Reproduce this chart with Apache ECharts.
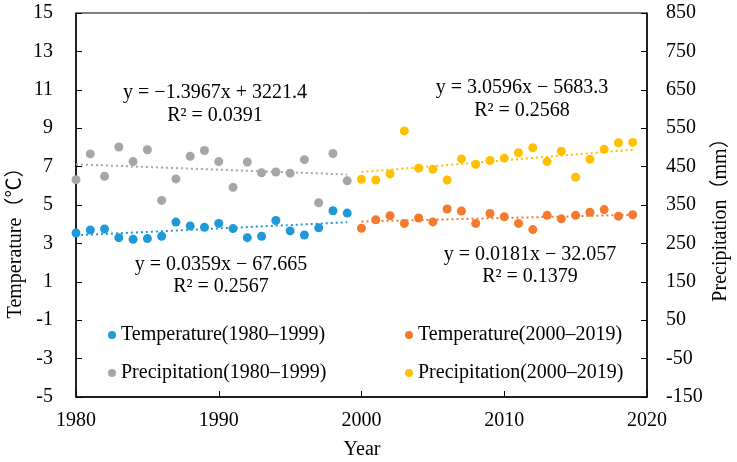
<!DOCTYPE html>
<html>
<head>
<meta charset="utf-8">
<script src="https://cdn.jsdelivr.net/npm/echarts@6/dist/echarts.min.js"></script>
<style>
  html, body { margin: 0; padding: 0; background: #fff; }
  #chart { width: 737px; height: 462px; }
</style>
</head>
<body>
<div id="chart"></div>
<script>
// datos
const years1 = [1980, 1981, 1982, 1983, 1984, 1985, 1986, 1987, 1988, 1989,
                1990, 1991, 1992, 1993, 1994, 1995, 1996, 1997, 1998, 1999];
const years2 = [2000, 2001, 2002, 2003, 2004, 2005, 2006, 2007, 2008, 2009,
                2010, 2011, 2012, 2013, 2014, 2015, 2016, 2017, 2018, 2019];
const temp1 = [3.54, 3.70, 3.75, 3.30, 3.21, 3.25, 3.37, 4.11, 3.91, 3.84,
               4.04, 3.77, 3.30, 3.37, 4.19, 3.65, 3.44, 3.81, 4.70, 4.58];
const temp2 = [3.79, 4.23, 4.44, 4.04, 4.32, 4.12, 4.79, 4.69, 4.04, 4.56,
               4.39, 4.04, 3.72, 4.46, 4.28, 4.46, 4.62, 4.76, 4.42, 4.49];
const prec1 = [416, 483, 425, 501, 463, 494, 362, 418, 477, 492,
               463, 396, 462, 434, 436, 433, 468, 356, 484, 413];
const prec2 = [417, 415, 431, 543, 446, 443, 415, 470, 456, 466,
               472, 486, 499, 463, 490, 422, 469, 495, 512, 513];

// líneas de tendencia (extremos)
const trendTemp1 = [[1980, 3.42], [1999, 4.10]];
const trendTemp2 = [[2000, 4.14], [2019, 4.49]];
const trendPrec1 = [[1980, 455.9], [1999, 429.4]];
const trendPrec2 = [[2000, 435.9], [2019, 494.0]];

const seriesNames = ['Temperature(1980–1999)', 'Temperature(2000–2019)',
                     'Precipitation(1980–1999)', 'Precipitation(2000–2019)'];
const colors = ['#1f9ad9', '#f47a2e', '#a6a6a6', '#ffc000'];

const equations = [
  { x: 215, y: 93, text: 'y = −1.3967x + 3221.4' },
  { x: 215, y: 116, text: 'R² = 0.0391' },
  { x: 522, y: 88, text: 'y = 3.0596x − 5683.3' },
  { x: 522, y: 111, text: 'R² = 0.2568' },
  { x: 221, y: 265, text: 'y = 0.0359x − 67.665' },
  { x: 221, y: 287, text: 'R² = 0.2567' },
  { x: 530, y: 255, text: 'y = 0.0181x − 32.057' },
  { x: 530, y: 277, text: 'R² = 0.1379' }
];

const font = 'Liberation Serif';
const titleFont = '20px "Liberation Serif", "Noto Sans CJK SC"';
const zip = (xs, ys) => xs.map((x, i) => [x, ys[i]]);

const myChart = echarts.init(document.getElementById('chart'));

const scatter = (name, data, color, yIdx) => ({
  name: name,
  type: 'scatter',
  yAxisIndex: yIdx,
  data: data,
  symbolSize: 9,
  itemStyle: { color: color, opacity: 1 },
  z: 3
});

const trend = (name, data, color, yIdx) => ({
  name: name,
  type: 'line',
  yAxisIndex: yIdx,
  data: data,
  showSymbol: false,
  silent: true,
  lineStyle: { color: color, width: 2, type: [2, 3] },
  z: 2
});

const legendText = { fontFamily: font, fontSize: 20, color: '#000' };

const textEl = (x, y, text, rot) => ({
  type: 'text',
  x: x, y: y,
  rotation: rot || 0,
  style: { text: text, font: titleFont, fill: '#000', align: 'center', verticalAlign: 'middle' },
  z: 10
});

const option = {
  animation: false,
  grid: {
    left: 76, right: 90, top: 13, bottom: 65,
    outerBoundsMode: 'none',
    show: true, borderColor: '#000', borderWidth: 1
  },
  legend: [
    {
      data: [seriesNames[0], seriesNames[2]],
      orient: 'vertical',
      left: 103, top: 320,
      icon: 'circle', itemWidth: 8, itemHeight: 8, itemGap: 18,
      textStyle: legendText
    },
    {
      data: [seriesNames[1], seriesNames[3]],
      orient: 'vertical',
      left: 400, top: 320,
      icon: 'circle', itemWidth: 8, itemHeight: 8, itemGap: 18,
      textStyle: legendText
    }
  ],
  xAxis: {
    type: 'value',
    min: 1980, max: 2020, interval: 10,
    axisLine: { onZero: false, lineStyle: { color: '#000', width: 1.5 } },
    axisTick: { inside: true, length: 6, lineStyle: { color: '#000' } },
    axisLabel: { fontFamily: font, fontSize: 20, color: '#000', margin: 14, formatter: v => String(v) },
    splitLine: { show: false }
  },
  yAxis: [
    {
      type: 'value',
      min: -5, max: 15, interval: 2,
      axisLine: { show: true, onZero: false, lineStyle: { color: '#000', width: 1.5 } },
      axisTick: { show: true, inside: true, length: 6, lineStyle: { color: '#000' } },
      axisLabel: { fontFamily: font, fontSize: 20, color: '#000', margin: 23 },
      splitLine: { show: false }
    },
    {
      type: 'value',
      min: -150, max: 850, interval: 100,
      axisLine: { show: true, onZero: false, lineStyle: { color: '#000', width: 1.5 } },
      axisTick: { show: true, inside: true, length: 6, lineStyle: { color: '#000' } },
      axisLabel: { fontFamily: font, fontSize: 20, color: '#000', margin: 19 },
      splitLine: { show: false }
    }
  ],
  graphic: equations.map(e => textEl(e.x, e.y, e.text)).concat([
    textEl(362, 450, 'Year'),
    textEl(16, 238, 'Temperature（℃）', Math.PI / 2),
    textEl(721, 215, 'Precipitation（mm）', Math.PI / 2)
  ]),
  series: [
    trend('trendTemp1', trendTemp1, colors[0], 0),
    trend('trendTemp2', trendTemp2, colors[1], 0),
    trend('trendPrec1', trendPrec1, colors[2], 1),
    trend('trendPrec2', trendPrec2, colors[3], 1),
    scatter(seriesNames[0], zip(years1, temp1), colors[0], 0),
    scatter(seriesNames[1], zip(years2, temp2), colors[1], 0),
    scatter(seriesNames[2], zip(years1, prec1), colors[2], 1),
    scatter(seriesNames[3], zip(years2, prec2), colors[3], 1)
  ]
};

myChart.setOption(option);
</script>
</body>
</html>
